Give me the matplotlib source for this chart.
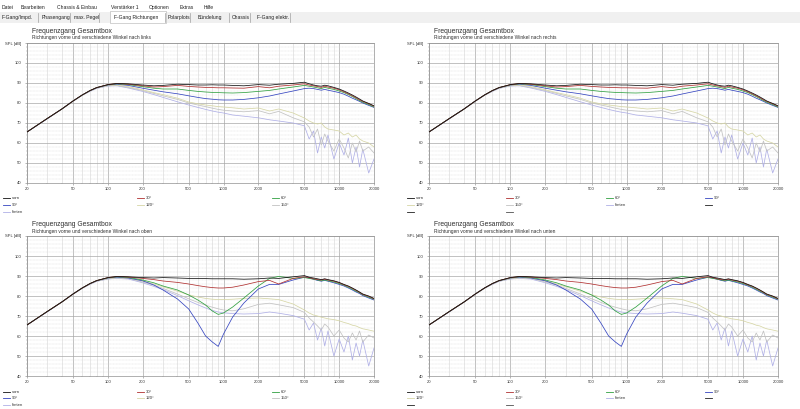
import matplotlib
matplotlib.use("Agg")
import matplotlib.pyplot as plt
from matplotlib.lines import Line2D
from matplotlib.patches import Rectangle

plt.rcParams['font.family'] = ['Liberation Sans', 'DejaVu Sans']

W, H = 800, 409

# Frequenzraster (Hz)
freq = [20, 30, 40, 50, 60, 70, 80, 100, 120, 150,
        200, 250, 300, 400, 500, 600, 700, 800, 900, 1000,
        1200, 1500, 2000, 2500, 3000, 4000, 5000, 5500, 6000, 6500,
        7000, 7500, 8000, 9000, 10000, 11000, 12000, 13000, 14000, 15000,
        16000, 18000, 20000]

# --- horizontal (nach links / nach rechts) ---
vorn_h = [65.5, 72.3, 77.0, 81.0, 84.0, 86.2, 87.7, 89.2, 89.8, 89.6,
          89.0, 88.6, 88.8, 89.4, 89.2, 89.0, 89.0, 89.1, 89.0, 89.0,
          88.8, 88.6, 89.2, 88.9, 89.4, 89.8, 90.4, 89.6, 89.0, 88.6,
          88.4, 88.9, 88.6, 87.8, 87.0, 86.0, 85.0, 84.0, 83.0, 82.0,
          81.0, 79.8, 78.6]
w30_h = [65.5, 72.3, 77.0, 81.0, 84.0, 86.2, 87.7, 89.2, 89.7, 89.4,
         88.6, 88.0, 88.2, 88.8, 88.3, 88.0, 87.8, 87.7, 87.6, 87.6,
         87.5, 87.4, 88.2, 87.6, 88.4, 89.0, 89.6, 89.0, 88.6, 88.2,
         87.8, 88.4, 88.0, 87.4, 86.6, 85.6, 84.6, 83.6, 82.6, 81.6,
         80.8, 79.6, 78.4]
w60_h = [65.5, 72.3, 77.0, 81.0, 84.0, 86.2, 87.7, 89.1, 89.6, 89.2,
         88.2, 87.4, 87.0, 87.0, 86.3, 85.8, 85.5, 85.3, 85.2, 85.1,
         85.0, 85.2, 85.8, 86.3, 87.0, 88.0, 88.8, 88.4, 88.0, 87.6,
         87.2, 87.8, 87.4, 86.8, 86.0, 85.2, 84.2, 83.2, 82.2, 81.2,
         80.4, 79.2, 78.0]
w90_h = [65.5, 72.2, 77.0, 81.0, 84.0, 86.1, 87.6, 89.0, 89.4, 88.8,
         87.4, 86.4, 85.6, 84.6, 83.6, 82.8, 82.2, 81.9, 81.6, 81.5,
         81.5, 81.8, 82.6, 83.5, 84.5, 86.0, 87.2, 87.4, 87.2, 86.8,
         86.4, 86.8, 86.4, 85.8, 85.2, 84.4, 83.4, 82.4, 81.6, 80.8,
         80.0, 78.8, 77.8]
w120_h = [65.5, 72.2, 76.9, 80.9, 83.9, 86.0, 87.5, 88.8, 89.0, 88.2,
          86.6, 85.2, 84.2, 82.4, 80.5, 79.6, 79.0, 78.6, 78.2, 78.0,
          77.6, 77.0, 77.5, 76.0, 77.0, 75.0, 72.5, 71.0, 70.0, 69.5,
          70.0, 68.0, 67.0, 66.5, 66.0, 64.0, 65.0, 63.0, 64.0, 62.0,
          61.0, 60.0, 58.0]
w150_h = [65.5, 72.2, 76.9, 80.9, 83.8, 85.9, 87.4, 88.6, 88.8, 87.8,
          86.2, 84.8, 83.6, 81.8, 80.0, 79.0, 78.2, 77.4, 76.8, 76.4,
          76.0, 75.6, 76.2, 74.6, 75.8, 72.6, 70.6, 68.0, 63.0, 67.0,
          59.0, 64.5, 61.0, 56.0, 62.0, 57.5, 52.5, 60.0, 55.5, 61.0,
          56.0, 58.0, 55.0]
hinten_h = [65.5, 72.2, 76.9, 80.8, 83.8, 85.8, 87.3, 88.5, 88.6, 87.5,
            85.8, 84.2, 82.8, 80.6, 79.0, 77.8, 76.8, 76.0, 75.4, 75.0,
            74.0, 73.4, 72.6, 71.6, 71.0, 70.0, 68.6, 62.0, 66.0, 55.0,
            63.0, 57.5, 64.0, 52.0, 60.0, 54.0, 62.5, 50.0, 58.0, 48.0,
            57.0, 45.0, 52.0]

# --- vertikal (nach oben / nach unten) ---
vorn_v = [65.5, 72.3, 77.0, 81.0, 84.0, 86.2, 87.7, 89.2, 89.8, 89.6,
          89.2, 89.0, 89.2, 89.0, 88.8, 88.8, 88.7, 88.6, 88.6, 88.6,
          88.6, 88.4, 88.6, 89.0, 88.8, 89.6, 90.2, 89.4, 89.0, 88.6,
          88.2, 88.6, 88.2, 87.6, 86.8, 85.8, 85.0, 84.0, 83.0, 82.0,
          81.0, 80.0, 78.8]
w30_v = [65.5, 72.3, 77.0, 81.0, 84.0, 86.2, 87.7, 89.2, 89.7, 89.5,
         88.8, 88.2, 87.5, 86.8, 86.0, 85.2, 84.6, 84.2, 84.0, 84.0,
         84.4, 85.5, 87.2, 87.8, 86.0, 88.8, 89.6, 89.2, 88.6, 88.2,
         88.0, 88.4, 88.0, 87.4, 86.6, 85.6, 84.8, 83.8, 82.8, 81.8,
         80.8, 79.8, 78.6]
w60_v = [65.5, 72.3, 77.0, 81.0, 84.0, 86.2, 87.7, 89.1, 89.6, 89.3,
         88.0, 86.6, 85.0, 83.0, 80.5, 78.0, 75.5, 72.5, 70.8, 71.5,
         74.5, 79.0, 85.0, 88.8, 89.8, 88.8, 89.2, 88.8, 88.4, 88.0,
         87.6, 88.0, 87.6, 87.0, 86.2, 85.4, 84.4, 83.4, 82.4, 81.6,
         80.6, 79.4, 78.4]
w90_v = [65.5, 72.2, 77.0, 81.0, 84.0, 86.1, 87.6, 89.0, 89.4, 89.0,
         87.6, 85.5, 83.0, 78.5, 73.5, 66.5, 60.0, 57.0, 54.8, 61.0,
         69.5, 76.5, 83.5, 85.8, 85.8, 88.0, 89.4, 89.0, 88.4, 87.8,
         87.4, 87.8, 87.4, 86.6, 85.8, 85.0, 84.0, 83.0, 82.0, 81.2,
         80.2, 79.0, 78.0]
w120_v = [65.5, 72.2, 76.9, 80.9, 83.9, 86.0, 87.5, 88.8, 89.2, 89.0,
          87.6, 86.0, 84.6, 82.4, 80.6, 79.5, 78.8, 78.4, 78.2, 78.2,
          78.4, 78.8, 79.0, 78.6, 78.2, 76.0, 73.0, 71.5, 70.5, 70.0,
          69.4, 69.0, 68.6, 68.2, 67.6, 66.8, 66.2, 65.4, 65.0, 64.2,
          63.6, 63.0, 62.4]
w150_v = [65.5, 72.2, 76.9, 80.9, 83.8, 85.9, 87.4, 88.6, 89.0, 88.8,
          87.0, 85.4, 83.8, 81.0, 78.6, 76.8, 75.4, 74.4, 73.6, 73.0,
          72.6, 73.6, 75.8, 76.4, 75.6, 74.2, 71.8, 69.0, 67.0, 65.0,
          63.0, 66.0, 64.5, 60.0, 63.0, 59.0, 57.0, 61.5, 58.0, 62.5,
          57.0, 60.5, 59.0]
hinten_v = [65.5, 72.2, 76.9, 80.8, 83.8, 85.8, 87.3, 88.5, 88.8, 88.5,
            86.6, 84.8, 83.2, 80.2, 77.6, 75.6, 74.0, 72.8, 72.0, 71.6,
            71.2, 71.0, 71.2, 72.0, 71.4, 70.2, 68.4, 63.0, 66.5, 58.0,
            64.0, 55.0, 62.5, 50.0, 58.5, 52.0, 60.0, 48.0, 56.5, 50.0,
            58.0, 45.0, 54.0]

labels = ['vorn', '30°', '60°', '90°', '120°', '150°', 'hinten']
colors = ['#101010', '#b03030', '#30a040', '#3545c0', '#d6d6a6', '#c2c2c2', '#b0b0e6']
extra_colors = ['#202020', '#202020', '#505050']

curves_h = [vorn_h, w30_h, w60_h, w90_h, w120_h, w150_h, hinten_h]
curves_v = [vorn_v, w30_v, w60_v, w90_v, w120_v, w150_v, hinten_v]

xticks = [20, 50, 100, 200, 500, 1000, 2000, 5000, 10000, 20000]
xminor = [30, 40, 60, 70, 80, 90, 300, 400, 600, 700, 800, 900,
          3000, 4000, 6000, 7000, 8000, 9000]
yticks = [40, 50, 60, 70, 80, 90, 100, 110]
ylabels = ['40', '50', '60', '70', '80', '90', '100', 'SPL [dB]']

title = 'Frequenzgang Gesamtbox'
subtitles = ['Richtungen vorne und verschiedene Winkel nach links',
             'Richtungen vorne und verschiedene Winkel nach rechts',
             'Richtungen vorne und verschiedene Winkel nach oben',
             'Richtungen vorne und verschiedene Winkel nach unten']

menu = [('Datei', 2), ('Bearbeiten', 21), ('Chassis & Einbau', 57),
        ('Verstärker 1', 111), ('Optionen', 149), ('Extras', 180), ('Hilfe', 204)]
tabs = [('F-Gang/Impd.', 2, 38), ('Phasengang', 42, 70), ('max. Pegel', 74, 99),
        ('F-Gang Richtungen', 114, 165), ('Polarplots', 168, 190),
        ('Bündelung', 198, 229), ('Chassis', 232, 250), ('F-Gang elektr.', 257, 290)]


def fx(x):
    return x / W


def fy(y):
    return 1 - y / H


fig = plt.figure(figsize=(8.0, 4.09), dpi=100)
fig.patch.set_facecolor('white')

# Menüleiste und Registerkarten
for name, x in menu:
    fig.text(fx(x), fy(9), name, fontsize=3.6, va='baseline', ha='left', color='#202020')
fig.patches.append(Rectangle((0, fy(23)), 1, (23 - 12) / H, transform=fig.transFigure,
                             facecolor='#f0f0f0', edgecolor='none', zorder=0))
fig.patches.append(Rectangle((fx(110), fy(23)), (166 - 110) / W, (23 - 11) / H,
                             transform=fig.transFigure, facecolor='white',
                             edgecolor='#b0b0b0', lw=0.4, zorder=0))
for name, x, sep in tabs:
    fig.text(fx(x), fy(19), name, fontsize=3.6, va='baseline', ha='left', color='#202020')
    fig.lines.append(Line2D([fx(sep), fx(sep)], [fy(13), fy(22)], transform=fig.transFigure,
                            color='#a0a0a0', lw=0.5))

panels = [
    ((27, 43, 374, 183), curves_h, subtitles[0], False, (198, 205, 212)),
    ((429, 43, 778, 183), curves_h, subtitles[1], True, (198, 205, 212)),
    ((27, 236, 374, 376), curves_v, subtitles[2], False, (391.5, 398, 404.5)),
    ((429, 236, 778, 376), curves_v, subtitles[3], True, (391.5, 398, 404.5)),
]

for (x0, y0, x1, y1), curves, sub, right, rows in panels:
    ax = fig.add_axes([fx(x0), fy(y1), (x1 - x0) / W, (y1 - y0) / H])
    ax.set_xscale('log')
    ax.set_xlim(20, 20000)
    ax.set_ylim(40, 110)

    ax.set_xticks(xticks)
    ax.set_xticklabels([str(t) for t in xticks])
    ax.set_xticks(xminor, minor=True)
    ax.set_xticklabels([], minor=True)
    ax.set_yticks(yticks)
    ax.set_yticklabels(ylabels)
    ax.set_yticks(list(range(42, 110, 2)), minor=True)

    ax.grid(which='major', color='#a8a8a8', lw=0.5)
    ax.grid(which='minor', axis='x', color='#d4d4d4', lw=0.4)
    ax.grid(which='minor', axis='y', color='#dcdcdc', lw=0.35, ls=(0, (2, 1)))
    ax.set_axisbelow(True)

    ax.tick_params(which='major', labelsize=3.0, length=1.5, width=0.4,
                   color='#808080', labelcolor='#303030', pad=1.5)
    ax.tick_params(which='minor', length=0.8, width=0.3, color='#909090')
    ax.tick_params(axis='y', which='major', pad=2.5)
    for s in ax.spines.values():
        s.set_color('#909090')
        s.set_linewidth(0.5)

    # hellere Kurven zuerst, vorn zuletzt
    for i in range(len(curves) - 1, -1, -1):
        ax.plot(freq, curves[i], color=colors[i], lw=0.55, zorder=3 + (len(curves) - i))

    fig.text(fx(x0 + 5), fy(y0 - 10), title, fontsize=4.9, va='baseline', ha='left',
             color='#303030')
    fig.text(fx(x0 + 5), fy(y0 - 3.5), sub, fontsize=3.5, va='baseline', ha='left',
             color='#303030')

    # Legende unter dem Diagramm
    if right:
        entries = list(zip(labels, colors)) + [('', c) for c in extra_colors]
        cols = [407, 506, 606, 705]
    else:
        entries = list(zip(labels, colors))
        cols = [3, 137, 272]
    for k, (lab, col) in enumerate(entries):
        cx = cols[k % len(cols)]
        cy = rows[k // len(cols)]
        fig.lines.append(Line2D([fx(cx), fx(cx + 7)], [fy(cy), fy(cy)],
                                transform=fig.transFigure, color=col, lw=0.6))
        if lab:
            fig.text(fx(cx + 9), fy(cy + 1.2), lab, fontsize=3.1, va='baseline', ha='left',
                     color='#303030')

fig.savefig('out.png', dpi=100, facecolor='white')
